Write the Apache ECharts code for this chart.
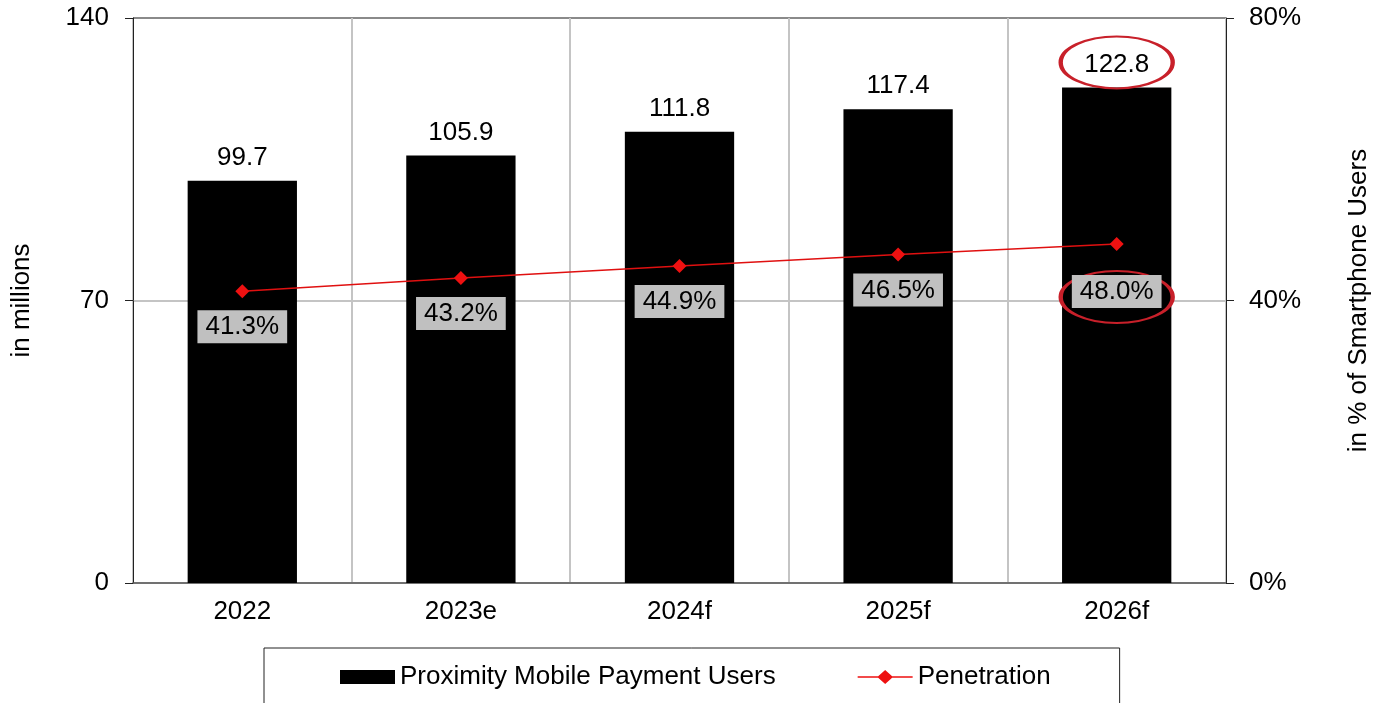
<!DOCTYPE html>
<html>
<head>
<meta charset="utf-8">
<script src="https://cdn.jsdelivr.net/npm/echarts@6/dist/echarts.min.js"></script>
<style>
    html, body { margin: 0; padding: 0; background: #fff; }
    #main { width: 1373px; height: 703px; }
</style>
</head>
<body>
<div id="main"></div>
<script>
// chart data
const years = ['2022', '2023e', '2024f', '2025f', '2026f']
const users = [99.7, 105.9, 111.8, 117.4, 122.8]       // in millions
const penetration = [41.3, 43.2, 44.9, 46.5, 48.0]     // % of smartphone users
const leftTicks = [0, 70, 140]
const rightTicks = [0, 40, 80]

const font = 'Liberation Sans, Arial, sans-serif'
const ringStyle = { color: 'rgba(0,0,0,0)', borderColor: '#c8202a', borderWidth: 3 }
// legend icon: line with a diamond in the middle
const lineDiamondIcon = 'path://M0,6.2L20.5,6.2L27.5,0L34.5,6.2L55,6.2L55,7.8L34.5,7.8L27.5,14L20.5,7.8L0,7.8Z'

const option = {
    animation: false,
    textStyle: { fontFamily: font, color: '#000' },
    grid: { left: 133, right: 147, top: 18, bottom: 120, outerBoundsMode: 'none' },
    legend: {
        left: 264,
        top: 648,
        padding: [16, 69, 25, 76],
        itemGap: 82,
        itemWidth: 55,
        itemHeight: 14,
        borderColor: '#222',
        borderWidth: 1,
        textStyle: { fontSize: 26, color: '#000', fontFamily: font },
        data: [
            { name: 'Proximity Mobile Payment Users', icon: 'rect' },
            { name: 'Penetration', icon: lineDiamondIcon }
        ]
    },
    xAxis: {
        type: 'category',
        data: years,
        axisLine: { lineStyle: { color: '#555', width: 1.5 } },
        axisTick: { length: 8, lineStyle: { color: '#222' } },
        axisLabel: { fontSize: 26, color: '#000', margin: 16 },
        splitLine: { show: true, lineStyle: { color: '#c4c4c4', width: 2 } }
    },
    yAxis: [
        {
            type: 'value',
            min: leftTicks[0],
            max: leftTicks[leftTicks.length - 1],
            interval: leftTicks[1] - leftTicks[0],
            name: 'in millions',
            nameLocation: 'middle',
            nameGap: 98,
            nameTextStyle: { fontSize: 26, color: '#000' },
            axisLine: { show: true, lineStyle: { color: '#222' } },
            axisTick: { show: true, length: 8, lineStyle: { color: '#222' } },
            axisLabel: { fontSize: 26, color: '#000', margin: 24 },
            splitLine: { lineStyle: { color: ['#c4c4c4', '#c4c4c4', '#8a8a8a'], width: 2 } }
        },
        {
            type: 'value',
            min: rightTicks[0],
            max: rightTicks[rightTicks.length - 1],
            interval: rightTicks[1] - rightTicks[0],
            name: 'in % of Smartphone Users',
            nameLocation: 'middle',
            nameGap: 120,
            nameTextStyle: { fontSize: 26, color: '#000' },
            position: 'right',
            axisLine: { show: true, lineStyle: { color: '#222' } },
            axisTick: { show: true, length: 8, lineStyle: { color: '#222' } },
            axisLabel: { fontSize: 26, color: '#000', margin: 23, formatter: '{value}%' },
            splitLine: { show: false }
        }
    ],
    series: [
        {
            name: 'Proximity Mobile Payment Users',
            type: 'bar',
            barWidth: '50%',
            data: users,
            itemStyle: { color: '#000' },
            label: {
                show: true,
                position: 'top',
                distance: 10,
                fontSize: 26,
                color: '#000',
                formatter: p => p.value.toFixed(1)
            },
            markPoint: {
                silent: true,
                symbol: 'circle',
                symbolSize: [112, 52],
                symbolOffset: [0, -25],
                itemStyle: ringStyle,
                label: { show: false },
                data: [{ coord: [years[4], users[4]] }]
            }
        },
        {
            name: 'Penetration',
            type: 'line',
            yAxisIndex: 1,
            z: 5,
            symbol: 'diamond',
            symbolSize: 14,
            lineStyle: { color: '#e01010', width: 1.5 },
            itemStyle: { color: '#ee1111' },
            data: penetration.map((v, i) => i === 4
                ? { value: v, label: { distance: 24 } }
                : v),
            label: {
                show: true,
                position: 'bottom',
                distance: 12,
                fontSize: 26,
                color: '#000',
                backgroundColor: '#c0c0c0',
                padding: [4, 8, 3, 8],
                formatter: p => p.value.toFixed(1) + '%'
            },
            markPoint: {
                silent: true,
                symbol: 'circle',
                symbolSize: [112, 52],
                symbolOffset: [0, 53],
                itemStyle: ringStyle,
                label: { show: false },
                data: [{ coord: [years[4], penetration[4]] }]
            }
        }
    ]
}

const myChart = echarts.init(document.getElementById('main'))
myChart.setOption(option)
</script>
</body>
</html>
